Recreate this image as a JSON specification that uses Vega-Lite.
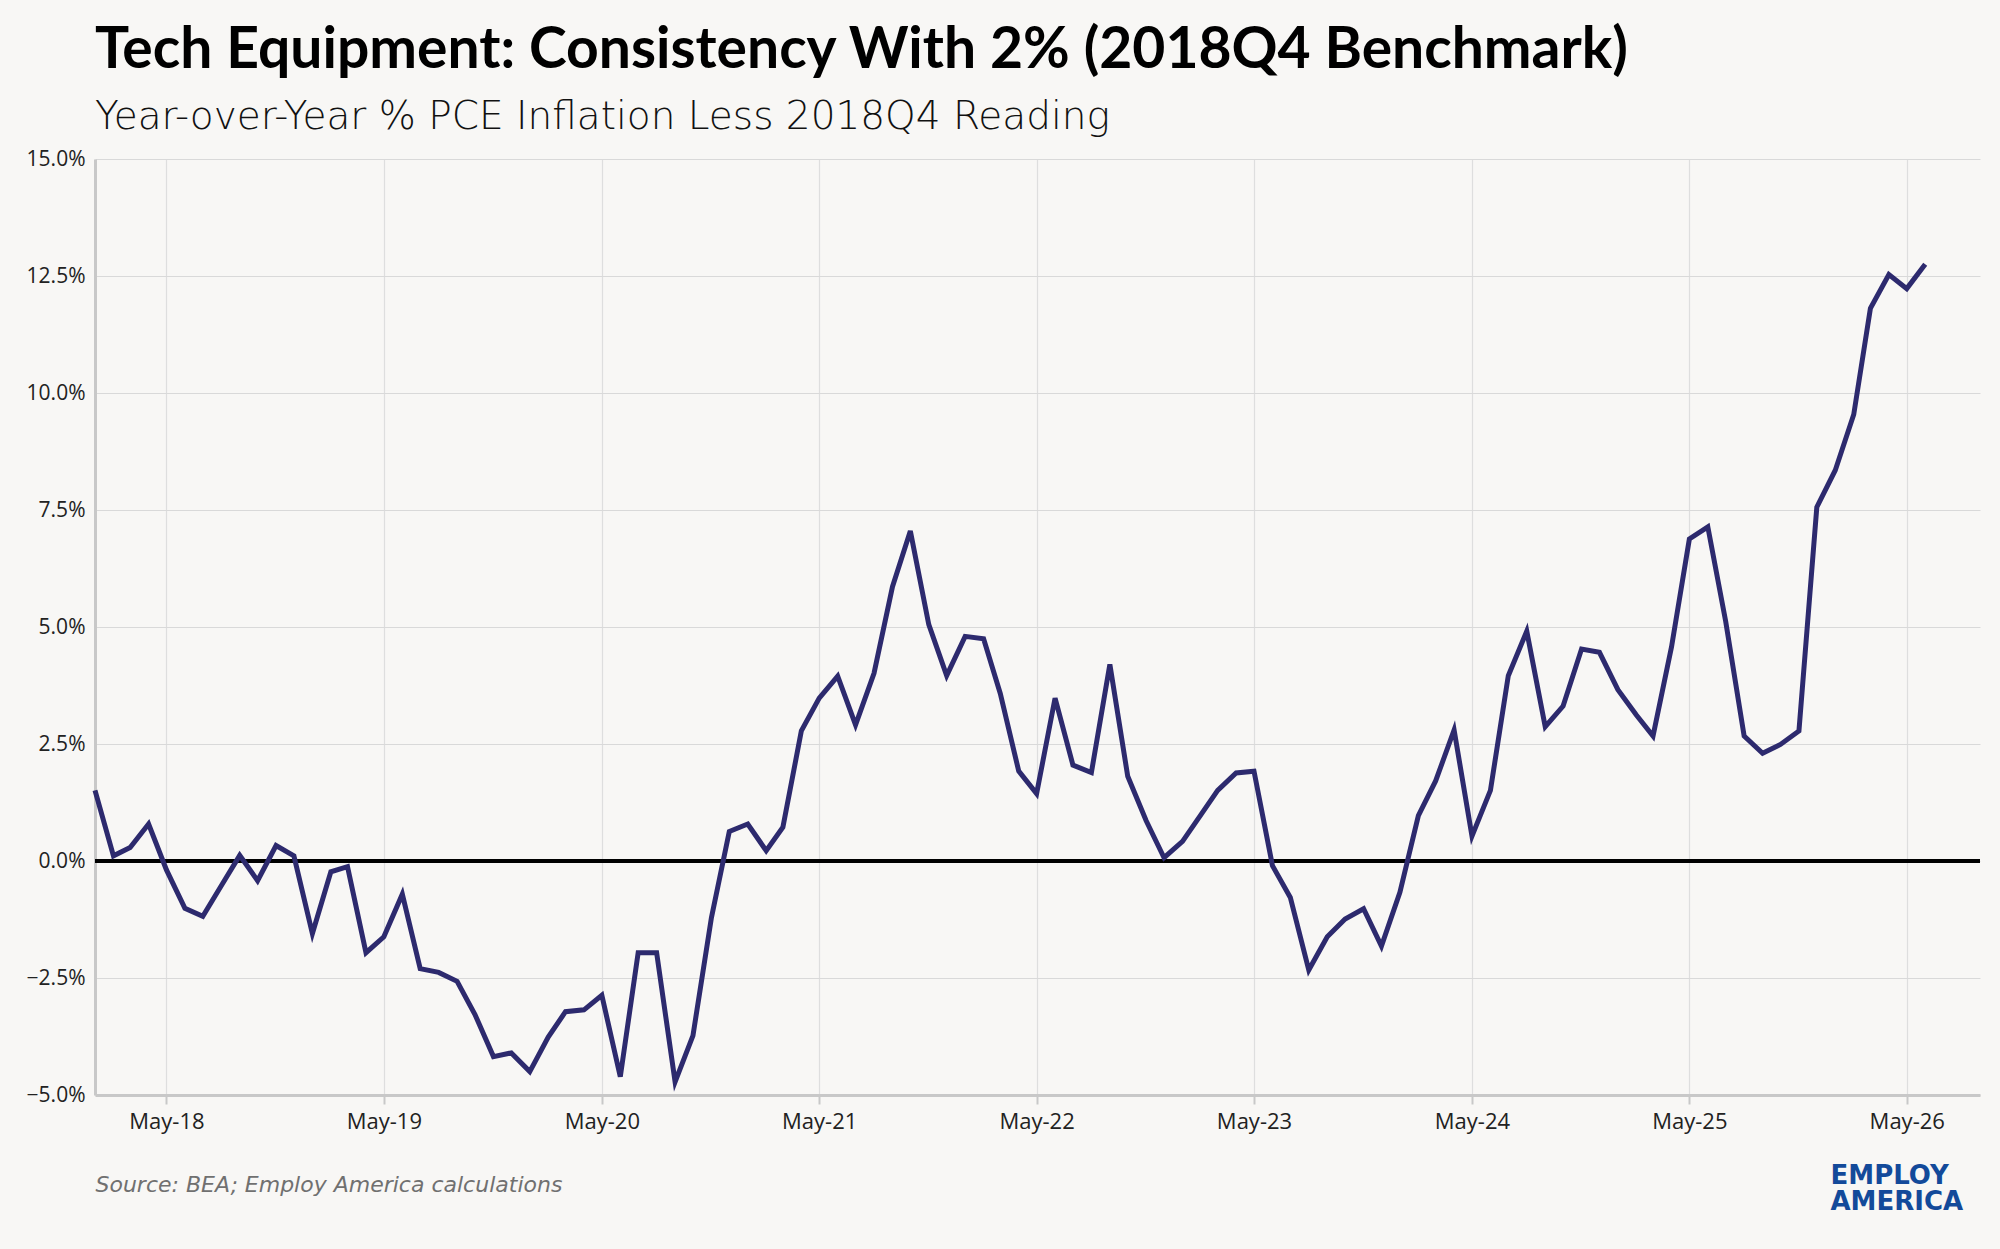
{
  "$schema": "https://vega.github.io/schema/vega-lite/v6.json",
  "description": "Tech equipment PCE inflation less 2018Q4 reading, monthly.",
  "autosize": {"type": "none"},
  "width": 1885,
  "height": 936,
  "padding": {"left": 95, "top": 159, "right": 20, "bottom": 154},
  "background": "#f8f7f5",
  "title": {
    "text": "Tech Equipment: Consistency With 2% (2018Q4 Benchmark)",
    "subtitle": "Year-over-Year % PCE Inflation Less 2018Q4 Reading",
    "anchor": "start",
    "frame": "group",
    "font": "Lato",
    "fontSize": 57,
    "fontWeight": "bold",
    "color": "#000000",
    "subtitleFont": "DejaVu Sans",
    "subtitleFontSize": 39,
    "subtitleFontWeight": 200,
    "subtitleColor": "#111111",
    "subtitlePadding": 18,
    "offset": 10
  },
  "data": {
    "values": [
      {"date": "2018-01-01", "value": 1.51},
      {"date": "2018-02-01", "value": 0.11},
      {"date": "2018-03-01", "value": 0.29},
      {"date": "2018-04-01", "value": 0.79},
      {"date": "2018-05-01", "value": -0.19},
      {"date": "2018-06-01", "value": -1.01},
      {"date": "2018-07-01", "value": -1.18},
      {"date": "2018-08-01", "value": -0.53},
      {"date": "2018-09-01", "value": 0.12},
      {"date": "2018-10-01", "value": -0.42},
      {"date": "2018-11-01", "value": 0.33},
      {"date": "2018-12-01", "value": 0.11},
      {"date": "2019-01-01", "value": -1.55},
      {"date": "2019-02-01", "value": -0.23},
      {"date": "2019-03-01", "value": -0.12},
      {"date": "2019-04-01", "value": -1.96},
      {"date": "2019-05-01", "value": -1.62},
      {"date": "2019-06-01", "value": -0.71},
      {"date": "2019-07-01", "value": -2.30},
      {"date": "2019-08-01", "value": -2.38},
      {"date": "2019-09-01", "value": -2.57},
      {"date": "2019-10-01", "value": -3.28},
      {"date": "2019-11-01", "value": -4.18},
      {"date": "2019-12-01", "value": -4.10},
      {"date": "2020-01-01", "value": -4.50},
      {"date": "2020-02-01", "value": -3.76},
      {"date": "2020-03-01", "value": -3.22},
      {"date": "2020-04-01", "value": -3.18},
      {"date": "2020-05-01", "value": -2.87},
      {"date": "2020-06-01", "value": -4.61},
      {"date": "2020-07-01", "value": -1.96},
      {"date": "2020-08-01", "value": -1.96},
      {"date": "2020-09-01", "value": -4.72},
      {"date": "2020-10-01", "value": -3.73},
      {"date": "2020-11-01", "value": -1.21},
      {"date": "2020-12-01", "value": 0.63},
      {"date": "2021-01-01", "value": 0.79},
      {"date": "2021-02-01", "value": 0.22},
      {"date": "2021-03-01", "value": 0.72},
      {"date": "2021-04-01", "value": 2.78},
      {"date": "2021-05-01", "value": 3.48},
      {"date": "2021-06-01", "value": 3.95},
      {"date": "2021-07-01", "value": 2.91},
      {"date": "2021-08-01", "value": 4.01},
      {"date": "2021-09-01", "value": 5.86},
      {"date": "2021-10-01", "value": 7.05},
      {"date": "2021-11-01", "value": 5.05},
      {"date": "2021-12-01", "value": 3.96},
      {"date": "2022-01-01", "value": 4.80},
      {"date": "2022-02-01", "value": 4.75},
      {"date": "2022-03-01", "value": 3.58},
      {"date": "2022-04-01", "value": 1.92},
      {"date": "2022-05-01", "value": 1.44},
      {"date": "2022-06-01", "value": 3.48},
      {"date": "2022-07-01", "value": 2.05},
      {"date": "2022-08-01", "value": 1.89},
      {"date": "2022-09-01", "value": 4.20},
      {"date": "2022-10-01", "value": 1.81},
      {"date": "2022-11-01", "value": 0.86},
      {"date": "2022-12-01", "value": 0.07},
      {"date": "2023-01-01", "value": 0.42},
      {"date": "2023-02-01", "value": 0.99},
      {"date": "2023-03-01", "value": 1.51},
      {"date": "2023-04-01", "value": 1.88},
      {"date": "2023-05-01", "value": 1.92},
      {"date": "2023-06-01", "value": -0.10},
      {"date": "2023-07-01", "value": -0.78},
      {"date": "2023-08-01", "value": -2.33},
      {"date": "2023-09-01", "value": -1.62},
      {"date": "2023-10-01", "value": -1.24},
      {"date": "2023-11-01", "value": -1.02},
      {"date": "2023-12-01", "value": -1.82},
      {"date": "2024-01-01", "value": -0.67},
      {"date": "2024-02-01", "value": 0.97},
      {"date": "2024-03-01", "value": 1.71},
      {"date": "2024-04-01", "value": 2.80},
      {"date": "2024-05-01", "value": 0.53},
      {"date": "2024-06-01", "value": 1.51},
      {"date": "2024-07-01", "value": 3.96},
      {"date": "2024-08-01", "value": 4.91},
      {"date": "2024-09-01", "value": 2.87},
      {"date": "2024-10-01", "value": 3.31},
      {"date": "2024-11-01", "value": 4.53},
      {"date": "2024-12-01", "value": 4.46},
      {"date": "2025-01-01", "value": 3.66},
      {"date": "2025-02-01", "value": 3.12},
      {"date": "2025-03-01", "value": 2.67},
      {"date": "2025-04-01", "value": 4.57},
      {"date": "2025-05-01", "value": 6.88},
      {"date": "2025-06-01", "value": 7.14},
      {"date": "2025-07-01", "value": 5.12},
      {"date": "2025-08-01", "value": 2.67},
      {"date": "2025-09-01", "value": 2.30},
      {"date": "2025-10-01", "value": 2.49},
      {"date": "2025-11-01", "value": 2.78},
      {"date": "2025-12-01", "value": 7.56},
      {"date": "2026-01-01", "value": 8.35},
      {"date": "2026-02-01", "value": 9.54},
      {"date": "2026-03-01", "value": 11.81},
      {"date": "2026-04-01", "value": 12.53},
      {"date": "2026-05-01", "value": 12.23},
      {"date": "2026-06-01", "value": 12.75}
    ]
  },
  "layer": [
    {
      "mark": {"type": "rule", "color": "#000000", "strokeWidth": 2.6},
      "encoding": {
        "y": {
          "datum": 0,
          "type": "quantitative",
          "axis": {
            "orient": "right",
            "labels": false,
            "ticks": false,
            "domain": false,
            "grid": false,
            "title": ["EMPLOY", "AMERICA"],
            "titleAngle": 0,
            "titleAlign": "left",
            "titleBaseline": "alphabetic",
            "titleX": -150,
            "titleY": 1024,
            "titleLineHeight": 26,
            "titleFont": "DejaVu Sans",
            "titleFontWeight": "bold",
            "titleFontSize": 26,
            "titleColor": "#134a9a"
          }
        }
      }
    },
    {
      "mark": {"type": "line", "color": "#2d2a6e", "strokeWidth": 5},
      "encoding": {
        "x": {
          "field": "date",
          "type": "temporal",
          "scale": {
            "type": "utc",
            "domain": [
              {"year": 2018, "month": 1, "date": 1, "utc": true},
              {"year": 2026, "month": 9, "date": 1, "utc": true}
            ]
          },
          "axis": {
            "values": [
              {"year": 2018, "month": 5, "date": 1, "utc": true},
              {"year": 2019, "month": 5, "date": 1, "utc": true},
              {"year": 2020, "month": 5, "date": 1, "utc": true},
              {"year": 2021, "month": 5, "date": 1, "utc": true},
              {"year": 2022, "month": 5, "date": 1, "utc": true},
              {"year": 2023, "month": 5, "date": 1, "utc": true},
              {"year": 2024, "month": 5, "date": 1, "utc": true},
              {"year": 2025, "month": 5, "date": 1, "utc": true},
              {"year": 2026, "month": 5, "date": 1, "utc": true}
            ],
            "format": "%b-%y",
            "labelFont": "Open Sans",
            "labelFontSize": 22,
            "labelColor": "#222222",
            "labelPadding": 7,
            "tickSize": 9,
            "tickColor": "#c8c8c8",
            "tickWidth": 2,
            "domainColor": "#c8c8c8",
            "domainWidth": 3,
            "grid": true,
            "gridColor": "#dedede",
            "gridWidth": 1.2,
            "title": "Source: BEA; Employ America calculations",
            "titleFont": "DejaVu Sans",
            "titleFontStyle": "italic",
            "titleFontWeight": "normal",
            "titleFontSize": 22,
            "titleColor": "#707070",
            "titleAnchor": "start",
            "titleAlign": "left",
            "titleBaseline": "alphabetic",
            "titleX": 0,
            "titleY": 96
          }
        },
        "y": {
          "field": "value",
          "type": "quantitative",
          "scale": {"domain": [-5, 15], "nice": false, "zero": false},
          "axis": {
            "orient": "left",
            "values": [-5, -2.5, 0, 2.5, 5, 7.5, 10, 12.5, 15],
            "labelExpr": "format(datum.value, '.1f') + '%'",
            "labelFont": "Open Sans",
            "labelFontSize": 21,
            "labelColor": "#222222",
            "labelPadding": 10,
            "ticks": false,
            "domainColor": "#c8c8c8",
            "domainWidth": 3,
            "grid": true,
            "gridColor": "#d9d9d9",
            "gridWidth": 1.2,
            "title": null
          }
        }
      }
    }
  ],
  "resolve": {"axis": {"y": "independent"}},
  "config": {
    "view": {"stroke": null}
  }
}
